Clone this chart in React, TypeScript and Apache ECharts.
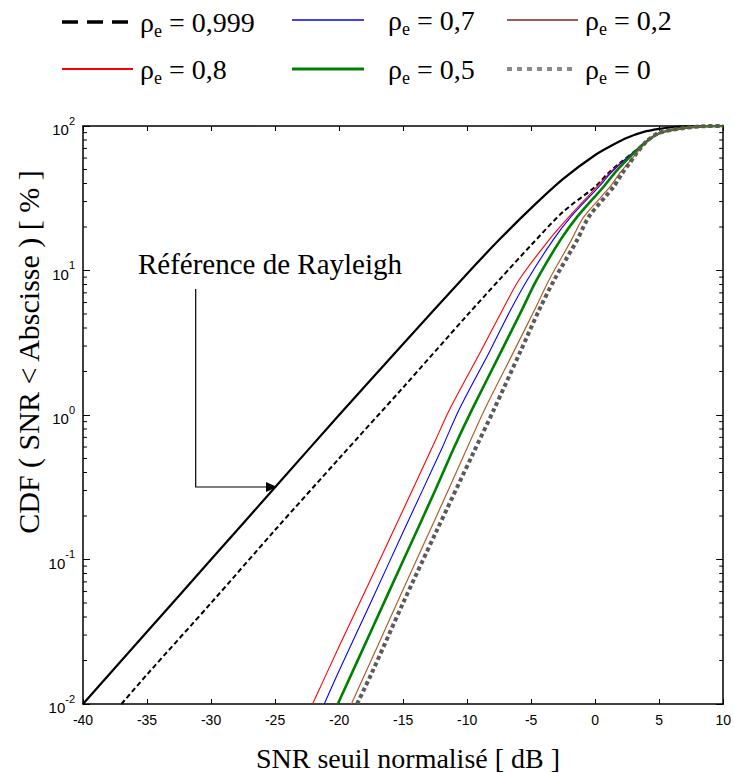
import React, { useEffect, useRef } from "react";
import * as echarts from "echarts";

// Axis extents
const X_MIN = -40;
const X_MAX = 10;
const X_STEP = 5;
const Y_MIN = 0.01;
const Y_MAX = 100;

// Minor tick positions on the log axis (decade start × multiplier)
const DECADES = [0.01, 0.1, 1, 10];
const MINOR_MULTS = [2, 3, 4, 5, 6, 7, 8, 9];

// Series values: [SNR dB, CDF %]
const rayleigh = [
  [-40, 0.01], [-35, 0.0316], [-30, 0.1], [-25, 0.316], [-20, 1.0], [-15, 3.1],
  [-10, 9.5], [-7.5, 16.3], [-5, 27], [-2.5, 43], [0, 63], [1.5, 75], [2.5, 83],
  [3.8, 91], [5, 95.5], [6, 98], [7.5, 99.5], [10, 100],
];
const rho0999 = [
  [-37, 0.01], [-35, 0.016], [-30, 0.05], [-25, 0.16], [-20, 0.5], [-15, 1.55],
  [-10, 4.9], [-7.5, 8.6], [-5, 15], [-2.5, 25.5], [0, 38], [1, 47], [2, 56],
  [3, 66], [4, 78], [5, 89], [6, 94], [7, 97], [8.5, 99.7], [10, 100],
];
const rho08 = [
  [-22.07, 0.01], [-20, 0.025], [-17.5, 0.074], [-15, 0.22], [-12.5, 0.66], [-11.4, 1.08],
  [-8.9, 2.8], [-7.25, 5.3], [-5.95, 8.6], [-3.6, 16.3], [-2.05, 23.5],
  [0.15, 38], [1.1, 47], [2, 55.5], [3, 66], [4, 78], [5, 89], [6, 94], [7, 97],
  [8.5, 99.7], [10, 100],
];
const rho07 = [
  [-21.16, 0.01], [-20, 0.017], [-17.5, 0.051], [-15, 0.155], [-12, 0.58], [-10.65, 1.08],
  [-8.2, 2.8], [-6.62, 5.3], [-5.3, 8.6], [-3.28, 16.3], [-1.9, 23.5],
  [0.3, 38], [1.2, 47], [2.05, 55.5], [3, 66], [4, 78], [5, 89], [6, 94], [7, 97],
  [8.5, 99.7], [10, 100],
];
const rho05 = [
  [-20.1, 0.01], [-17.5, 0.032], [-15, 0.098], [-12.5, 0.3], [-11, 0.6], [-9.64, 1.08],
  [-7.3, 2.8], [-5.74, 5.3], [-4.57, 8.6], [-2.71, 16.3], [-1.41, 23.5],
  [0.66, 38], [1.5, 47], [2.25, 55.5], [3.1, 66], [4, 78], [5, 89], [6, 94], [7, 97],
  [8.5, 99.7], [10, 100],
];
const rho02 = [
  [-19.04, 0.01], [-17.5, 0.02], [-15, 0.062], [-12.5, 0.19], [-10, 0.59], [-8.66, 1.08],
  [-6.31, 2.8], [-4.75, 5.3], [-3.6, 8.6], [-1.85, 16.3], [-0.89, 23.5],
  [1.17, 38], [1.9, 47], [2.6, 55.5], [3.3, 66], [4.1, 78], [5, 89], [6, 94], [7, 97],
  [8.5, 99.7], [10, 100],
];
const rho0 = [
  [-18.6, 0.01], [-17.5, 0.016], [-15, 0.05], [-12.5, 0.15], [-9.5, 0.55], [-7.93, 1.08],
  [-5.8, 2.8], [-4.39, 5.3], [-3.2, 8.6], [-1.4, 16.3], [-0.5, 23.5],
  [1.44, 38], [2.1, 47], [2.7, 55.5], [3.3, 66], [4, 78], [4.9, 89], [6, 94], [7, 97],
  [8.5, 99.7], [10, 100],
];

const LEGEND_LABELS = ["0,999", "0,7", "0,2", "0,8", "0,5", "0"];

const SERIF = "Liberation Serif";
const SANS = "Liberation Sans";

export default function App() {
  const ref = useRef<HTMLDivElement>(null);

  useEffect(() => {
    document.body.style.margin = "0";
    const chart = echarts.init(ref.current!, null, { renderer: "svg" });

    const minorTicks: number[][] = [];
    DECADES.forEach((d) => MINOR_MULTS.forEach((m) => minorTicks.push([X_MIN, +(d * m).toPrecision(3)])));

    const lineSeries = (name: string, data: number[][], color: string, width: number, dash?: number[] | "solid") => ({
      name,
      type: "line",
      data,
      showSymbol: false,
      symbol: "none",
      silent: true,
      smooth: 0.3,
      lineStyle: { color, width, type: dash || "solid", cap: "butt" },
      z: 3,
    });

    const legendText = (v: string) => `{r|ρ}{s|e}{r| = ${v}}`;
    const legendRich = {
      r: { fontFamily: SERIF, fontSize: 28, lineHeight: 32, fill: "#000", verticalAlign: "top" },
      s: { fontFamily: SERIF, fontSize: 18, lineHeight: 18, fill: "#000", verticalAlign: "bottom" },
    };

    const legendItems = [
      { x1: 62, x2: 128, y: 22, tx: 140, color: "#000", w: 3.5, dash: [16, 9], label: LEGEND_LABELS[0] },
      { x1: 292, x2: 364, y: 20, tx: 388, color: "#0000ff", w: 1.5, dash: null, label: LEGEND_LABELS[1] },
      { x1: 507, x2: 578, y: 20, tx: 585, color: "#8b1e1e", w: 1.5, dash: null, label: LEGEND_LABELS[2] },
      { x1: 62, x2: 133, y: 69, tx: 140, color: "#ff0000", w: 2, dash: null, label: LEGEND_LABELS[3] },
      { x1: 292, x2: 364, y: 69, tx: 388, color: "#008000", w: 3, dash: null, label: LEGEND_LABELS[4] },
      { x1: 507, x2: 577, y: 69, tx: 585, color: "#8a8a8a", w: 4, dash: [5, 5], label: LEGEND_LABELS[5] },
    ];

    const graphics: any[] = [];
    legendItems.forEach((it) => {
      graphics.push({
        type: "line",
        shape: { x1: it.x1, y1: it.y, x2: it.x2, y2: it.y },
        style: { stroke: it.color, lineWidth: it.w, lineDash: it.dash || undefined },
        silent: true,
      });
      graphics.push({
        type: "text",
        x: it.tx,
        y: it.y + 2,
        style: {
          text: legendText(it.label),
          rich: legendRich,
          fill: "#000",
          textAlign: "left",
          textVerticalAlign: "middle",
        },
        silent: true,
      });
    });

    const serifText = (text: string, x: number, y: number, size: number, rotation = 0) => ({
      type: "text",
      x,
      y,
      rotation,
      silent: true,
      style: {
        text,
        fontFamily: SERIF,
        fontSize: size,
        fill: "#000",
        textAlign: "center",
        textVerticalAlign: "middle",
      },
    });

    // annotation
    graphics.push(serifText("Référence de Rayleigh", 270, 264, 29));
    graphics.push({
      type: "polyline",
      shape: { points: [[195.7, 289], [195.7, 487], [268, 487]] },
      style: { stroke: "#000", lineWidth: 1.2, fill: null },
      silent: true,
    });
    graphics.push({
      type: "polygon",
      shape: { points: [[266, 482], [277, 487], [266, 492]] },
      style: { fill: "#000" },
      silent: true,
    });
    // axis titles
    graphics.push(serifText("CDF ( SNR < Abscisse ) [ % ]", 28, 352, 30, Math.PI / 2));
    graphics.push(serifText("SNR seuil normalisé [ dB ]", 408, 758, 28));

    const axisLineStyle = { lineStyle: { color: "#000", width: 1.5 } };

    const option: any = {
      animation: false,
      backgroundColor: "#fff",
      grid: { left: 83, top: 126, width: 643, height: 578, containLabel: false },
      xAxis: [
        {
          type: "value",
          min: X_MIN,
          max: X_MAX,
          interval: X_STEP,
          position: "bottom",
          axisLine: { show: true, onZero: false, ...axisLineStyle },
          axisTick: { show: true, inside: true, length: 5, lineStyle: { color: "#000", width: 1 } },
          axisLabel: { show: true, fontFamily: SANS, fontSize: 14, color: "#000", margin: 9, showMinLabel: true, showMaxLabel: true },
          splitLine: { show: false },
        },
        {
          type: "value",
          min: X_MIN,
          max: X_MAX,
          interval: X_STEP,
          position: "top",
          axisLine: { show: true, onZero: false, ...axisLineStyle },
          axisTick: { show: true, inside: true, length: 5, lineStyle: { color: "#000", width: 1 } },
          axisLabel: { show: false },
          splitLine: { show: false },
        },
      ],
      yAxis: [
        {
          type: "log",
          logBase: 10,
          min: Y_MIN,
          max: Y_MAX,
          position: "left",
          axisLine: { show: true, onZero: false, ...axisLineStyle },
          axisTick: { show: true, inside: true, length: 7, lineStyle: { color: "#000", width: 1 } },
          axisLabel: {
            show: true,
            margin: 8,
            formatter: (v: number) => `{b|10}{s|${Math.round(Math.log10(v))}}`,
            rich: {
              b: { fontFamily: SANS, fontSize: 15, color: "#000", lineHeight: 22, verticalAlign: "bottom" },
              s: { fontFamily: SANS, fontSize: 11, color: "#000", lineHeight: 12, verticalAlign: "top" },
            },
          },
          splitLine: { show: false },
        },
        {
          type: "log",
          logBase: 10,
          min: Y_MIN,
          max: Y_MAX,
          position: "right",
          axisLine: { show: true, onZero: false, ...axisLineStyle },
          axisTick: { show: true, inside: true, length: 7, lineStyle: { color: "#000", width: 1 } },
          axisLabel: { show: false },
          splitLine: { show: false },
        },
      ],
      series: [
        lineSeries("Référence de Rayleigh", rayleigh, "#000", 2.2),
        lineSeries("ρe = 0,999", rho0999, "#000", 2, [5, 3]),
        lineSeries("ρe = 0,8", rho08, "#ff0000", 1.1),
        lineSeries("ρe = 0,7", rho07, "#0000ff", 1.1),
        lineSeries("ρe = 0,5", rho05, "#008000", 2.6),
        lineSeries("ρe = 0,2", rho02, "#b0602c", 1.2),
        lineSeries("ρe = 0", rho0, "#5a5a5a", 4, [4, 3]),
        {
          name: "minorTicks",
          type: "custom",
          silent: true,
          clip: false,
          z: 4,
          data: minorTicks,
          renderItem: (_params: any, api: any) => {
            const v = api.value(1);
            const pL = api.coord([X_MIN, v]);
            const pR = api.coord([X_MAX, v]);
            return {
              type: "group",
              children: [
                { type: "line", shape: { x1: pL[0], y1: pL[1], x2: pL[0] + 4, y2: pL[1] }, style: { stroke: "#000", lineWidth: 1 } },
                { type: "line", shape: { x1: pR[0] - 4, y1: pR[1], x2: pR[0], y2: pR[1] }, style: { stroke: "#000", lineWidth: 1 } },
              ],
            };
          },
        },
      ],
      graphic: graphics,
    };

    chart.setOption(option);
    return () => chart.dispose();
  }, []);

  return <div ref={ref} style={{ width: 734, height: 773 }} />;
}
